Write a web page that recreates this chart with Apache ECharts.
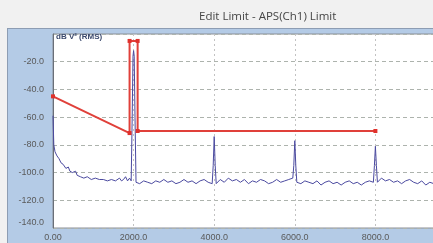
<!DOCTYPE html>
<html><head><meta charset="utf-8">
<script src="https://cdn.jsdelivr.net/npm/echarts@6/dist/echarts.min.js"></script>
<style>
html,body{margin:0;padding:0;background:#f1f1f1;overflow:hidden;}
#wrap{position:relative;width:433px;height:243px;overflow:hidden;}
#panel{position:absolute;left:7px;top:28px;right:-2px;bottom:-2px;background:#b4cbe6;border-left:1px solid #8d9db3;border-top:1px solid #8d9db3;}
#c{position:absolute;left:0;top:0;width:459px;height:243px;}
</style></head>
<body><div id="wrap"><div id="panel"></div><div id="c"></div></div>
<script>
const titleText = 'Edit Limit - APS(Ch1) Limit';
const unitLabel = 'dB V\u00B2 (RMS)';
const xTicks = [0, 2000, 4000, 6000, 8000];
const yTicks = [-20, -40, -60, -80, -100, -120, -140];

const traceFreq = [0,20,50,100,150,200,250,320,380,420,480,520,560,600,680,765,850,950,1050,1150,1250,1350,1450,1550,1650,1700,1750,1800,1850,1900,1940,1965,1985,2000,2015,2035,2060,
2150,2250,2350,2450,2550,2650,2750,2850,2950,3050,3150,3250,3350,3450,3550,3650,3750,3850,3950,3975,4000,4025,4050,
4150,4250,4350,4450,4550,4650,4750,4850,4950,5050,5150,5250,5350,5450,5550,5650,5750,5850,5950,5975,6000,6025,6050,
6150,6250,6350,6450,6550,6650,6750,6850,6950,7050,7150,7250,7350,7450,7550,7650,7750,7850,7950,7975,8000,8025,8050,
8150,8250,8350,8450,8550,8650,8750,8850,8950,9050,9150,9250,9350,9450,9550,9650,9750,9850,9950];
const traceLevel = [-59,-80,-85,-88,-90,-93,-94,-97,-96,-99,-100,-101,-99,-102,-103,-104,-103,-105,-104,-105,-105,-106,-105,-106,-104,-106,-105,-103,-106,-104,-106,-60,-16,-12,-16,-60,-107,
-108,-106,-107,-108,-106,-107,-105,-107,-106,-108,-107,-105,-107,-106,-108,-106,-105,-107,-108,-95,-74,-95,-108,
-105,-107,-104,-106,-105,-107,-105,-108,-106,-107,-105,-106,-108,-107,-105,-107,-106,-105,-104,-95,-77,-95,-107,
-108,-106,-107,-108,-106,-109,-107,-106,-108,-107,-109,-107,-106,-108,-107,-109,-107,-106,-107,-95,-81,-95,-107,
-104,-106,-105,-107,-106,-108,-106,-105,-107,-108,-106,-109,-107,-108,-106,-107,-105,-107,-106];

const limitFreq = [0, 1900, 1900, 2100, 2100, 8000];
const limitLevel = [-45, -71.5, -5, -5, -70, -70];

const traceData = traceFreq.map((f, i) => [f, traceLevel[i]]);
const limitData = limitFreq.map((f, i) => [f, limitLevel[i]]);

const chart = echarts.init(document.getElementById('c'), null, {renderer: 'canvas'});
chart.setOption({
  backgroundColor: 'transparent',
  animation: false,
  title: {
    text: titleText, left: 194, top: 6,
    textStyle: {fontFamily: 'Open Sans', fontSize: 11.5, fontWeight: 'normal', color: '#454545'}
  },
  graphic: [{
    type: 'text', left: 56, top: 33, z: 100,
    style: {text: unitLabel, fontFamily: 'Liberation Sans', fontSize: 8, fontWeight: 'bold', fill: '#3b4a6e'}
  }],
  grid: {
    left: 53, top: 34, right: 0, bottom: 15,
    show: true, backgroundColor: '#ffffff', borderColor: '#8a8f98', borderWidth: 1
  },
  xAxis: {
    type: 'value', min: 0, max: 10000, interval: 2000,
    axisLine: {show: false}, axisTick: {show: false},
    axisLabel: {
      margin: 5, fontFamily: 'Liberation Sans', fontSize: 9, color: '#5a5a5a',
      formatter: v => xTicks.includes(v) ? (v === 0 ? '0.00' : v.toFixed(1)) : ''
    },
    splitLine: {show: true, lineStyle: {color: '#c2c2c2', type: [2, 3], width: 1}}
  },
  yAxis: {
    type: 'value', min: -140, max: 0, interval: 20,
    axisLine: {show: true, lineStyle: {color: '#6a6f78'}}, axisTick: {show: false},
    axisLabel: {
      margin: 9, fontFamily: 'Liberation Sans', fontSize: 9, color: '#5a5a5a',
      formatter: v => yTicks.includes(v) ? (v === -140 ? '{low|' + v.toFixed(1) + '}' : v.toFixed(1)) : '',
      rich: {low: {fontFamily: 'Liberation Sans', fontSize: 9, color: '#5a5a5a', padding: [0, 0, 10, 0]}}
    },
    splitLine: {show: true, lineStyle: {color: '#adb3ad', type: [4, 3], width: 1}}
  },
  series: [
    {
      type: 'line', data: traceData, showSymbol: false, z: 2,
      lineStyle: {color: '#4b4aa0', width: 1}
    },
    {
      type: 'line', data: limitData, z: 3,
      symbol: 'rect', symbolSize: 4, showSymbol: true,
      itemStyle: {color: '#e0312c'},
      lineStyle: {color: '#e0403a', width: 2}
    }
  ]
});
</script></body></html>
